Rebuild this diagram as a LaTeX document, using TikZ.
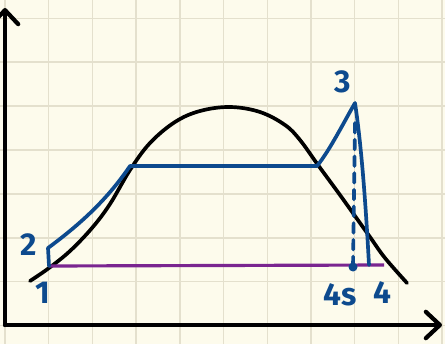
\documentclass[tikz,border=0pt]{standalone}
\usepackage{fontspec}
\setmainfont{Fira Sans}
\usetikzlibrary{arrows.meta}
\definecolor{tsPaper}{HTML}{FDFBEC}
\definecolor{tsGrid}{HTML}{E4E0CD}
\definecolor{tsBlue}{HTML}{0D4A8E}
\definecolor{tsPurple}{HTML}{7A2590}

\begin{document}
\begin{tikzpicture}[
    x=0.02cm, y=-0.02cm,
    gridline/.style={draw=tsGrid, line width=0.8pt},
    axisline/.style={line width=2.4pt, line cap=round,
                     -{Straight Barb[length=8pt, width=15pt, line width=2.4pt, round]}},
    dome/.style={line width=2.1pt, line cap=round, line join=round},
    cyc/.style={tsBlue, line width=2.1pt, line cap=round, line join=round},
    isobar/.style={tsPurple, line width=1.8pt},
    ptlabel/.style={text=tsBlue, font=\fontsize{18}{18}\selectfont\bfseries},
]

% --- Paper and grid ---
\fill[tsPaper] (0,0) rectangle (445,344);
\useasboundingbox (0,0) rectangle (445,344);
\foreach \k in {0,...,10}
  \draw[gridline] ({5+43.7*\k},0) -- ({5+43.7*\k},344);
\foreach \k in {0,...,7}
  \draw[gridline] (0,{18.3+43.9*\k}) -- (445,{18.3+43.9*\k});

% --- Axes ---
\coordinate (origin) at (5,325);
\coordinate (yend) at (5,8);
\coordinate (xend) at (442,325);
\draw[axisline] (origin) -- (yend);
\draw[axisline] (origin) -- (xend);

% --- Saturation dome ---
\draw[dome] plot[smooth, tension=0.6] coordinates {
  (30,281) (49,268) (70,251) (92,228) (110,204) (130,170) (150,143)
  (175,122) (200,111) (230,107) (260,112) (285,125) (300,140)
  (318,165) (340,195) (355,216) (370,237) (385,258) (407,283)};

% Cycle points
\coordinate (p1) at (49,266);
\coordinate (p2) at (48,248);
\coordinate (satl) at (130,166);
\coordinate (satv) at (317,166);
\coordinate (p3) at (355,103);
\coordinate (p4) at (369,265);
\coordinate (p4s) at (353,267);
\coordinate (isoend) at (384,265);

% --- Condenser pressure line ---
\draw[isobar] (p1) -- (isoend);

% --- Cycle ---
\draw[cyc] (p1) -- (p2) .. controls (75,228) and (105,203) .. (satl) -- (satv)
  .. controls (330,150) and (345,120) .. (p3)
  .. controls (362,150) and (366,210) .. (p4);
\draw[cyc, dash pattern=on 5.5pt off 4pt] ([yshift=-0.4cm]p3) -- (p4s);
\fill[tsBlue] (p4s) circle (4.5);

% --- Labels ---
\node[ptlabel] (l1) at (43,293) {1};
\node[ptlabel] (l2) at (29,245) {2};
\node[ptlabel] (l3) at (343,82) {3};
\node[ptlabel] (l4s) at (340,295) {4s};
\node[ptlabel] (l4) at (382,293) {4};

\end{tikzpicture}
\end{document}
